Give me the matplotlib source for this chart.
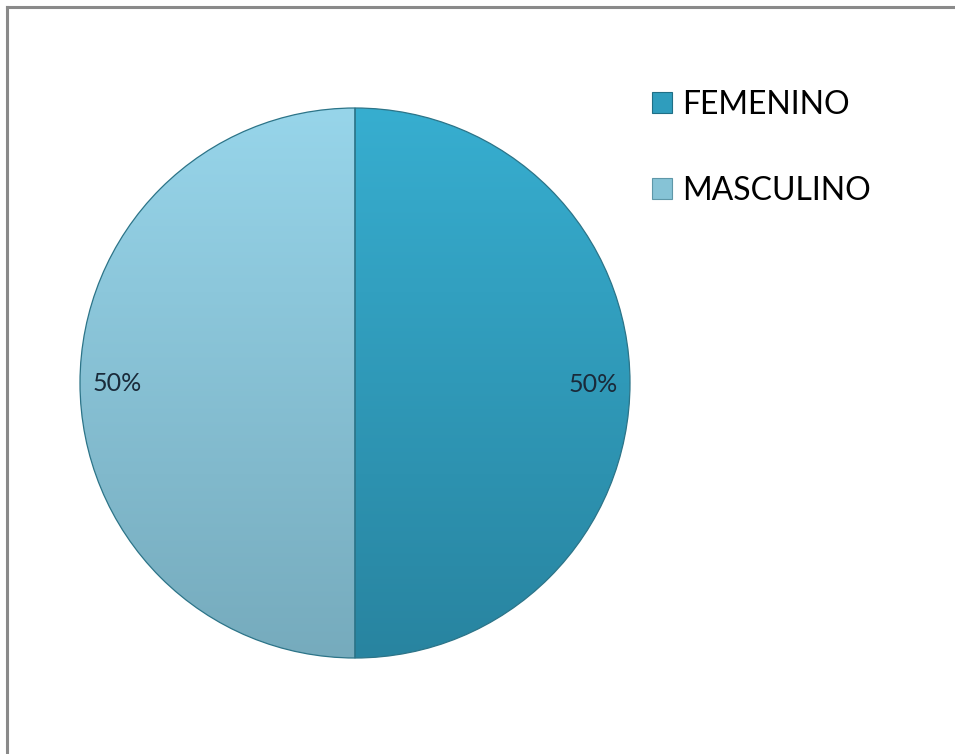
import numpy as np
import matplotlib
matplotlib.use("Agg")
import matplotlib.pyplot as plt
from matplotlib.colors import LinearSegmentedColormap
from matplotlib.patches import Rectangle

plt.rcParams['font.family'] = ['Lato', 'DejaVu Sans']

labels = ["FEMENINO", "MASCULINO"]
values = [50, 50]
pct_labels = ["50%", "50%"]
top_colors = ["#37aed0", "#97d5ea"]
bottom_colors = ["#2884a0", "#76abbd"]

W, H = 955, 754
fig = plt.figure(figsize=(W / 100, H / 100), dpi=100)
ax = fig.add_axes([0, 0, 1, 1])

cx, cy, r = 355, 371, 275
wedges, _ = ax.pie(values, startangle=90, counterclock=False,
                   center=(cx, cy), radius=r, frame=True,
                   wedgeprops=dict(edgecolor="#2c7488", linewidth=0.9))
ax.set_xlim(0, W)
ax.set_ylim(0, H)
ax.set_aspect('equal')
ax.axis('off')

# vertical shading inside each slice
grad = np.linspace(0, 1, 256).reshape(-1, 1)
for w, ct, cb in zip(wedges, top_colors, bottom_colors):
    cmap = LinearSegmentedColormap.from_list("g", [cb, ct])
    im = ax.imshow(grad, cmap=cmap, origin='lower', aspect='auto',
                   extent=(cx - r, cx + r, cy - r, cy + r), zorder=w.get_zorder() + 0.1)
    im.set_clip_path(w)
    w.set_zorder(w.get_zorder() + 0.2)
    w.set_facecolor('none')

ax.set_xlim(0, W)
ax.set_ylim(0, H)

# percentage labels
for w, txt in zip(wedges, pct_labels):
    ang = np.deg2rad((w.theta1 + w.theta2) / 2)
    ax.text(cx + 0.865 * r * np.cos(ang), cy + 0.865 * r * np.sin(ang) - 1, txt,
            ha='center', va='center', fontsize=18, color='#1a2a3a', zorder=5)

# legend
handles = [Rectangle((0, 0), 1, 1, facecolor=c, edgecolor=e, linewidth=0.8)
           for c, e in zip(["#2f9dbd", "#86c3d6"], ["#1f6f86", "#5e97a8"])]
ax.legend(handles, labels, loc='upper left', bbox_to_anchor=(652 / W, 1 - 90 / H),
          bbox_transform=fig.transFigure, frameon=False, fontsize=23,
          handlelength=0.62, handleheight=0.62, handletextpad=0.31,
          labelspacing=1.75, borderaxespad=0, borderpad=0)

# frame lines on top and left
fig.add_artist(plt.Line2D([7 / W, 1], [1 - 7 / H, 1 - 7 / H], color='#8a8a8a', linewidth=2.2))
fig.add_artist(plt.Line2D([7 / W, 7 / W], [0, 1 - 7 / H], color='#8a8a8a', linewidth=2.2))

fig.savefig("out.png", dpi=100, facecolor='white')
